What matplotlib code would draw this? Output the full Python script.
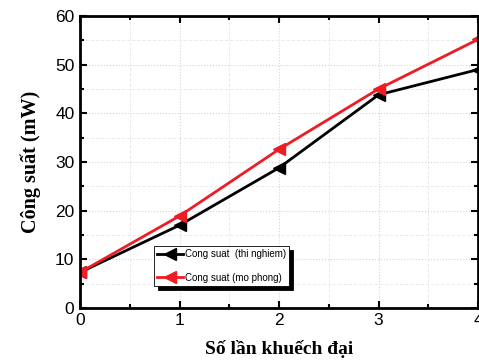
import matplotlib
matplotlib.use("Agg")
import matplotlib.pyplot as plt
from matplotlib.ticker import MultipleLocator

# number of amplification stages vs. power
stages = [0, 1, 2, 3, 4]
p_measured = [7.3, 17.0, 28.8, 43.8, 49.0]
p_simulated = [7.3, 18.9, 32.6, 45.0, 55.2]
labels = ["Cong suat  (thi nghiem)", "Cong suat (mo phong)"]

fig = plt.figure(figsize=(4.79, 3.64), dpi=100)
ax = fig.add_axes([0.167, 0.154, 0.831, 0.802])

ax.plot(stages, p_measured, color="black", lw=2, marker="<", ms=8,
        label=labels[0])
ax.plot(stages, p_simulated, color="#ee1c24", lw=2, marker="<", ms=8,
        label=labels[1])

ax.set_xlim(0, 4)
ax.set_ylim(0, 60)
ax.xaxis.set_major_locator(MultipleLocator(1))
ax.xaxis.set_minor_locator(MultipleLocator(0.5))
ax.yaxis.set_major_locator(MultipleLocator(10))
ax.yaxis.set_minor_locator(MultipleLocator(5))

ax.grid(which="major", color="#d4d4d4", ls=":", lw=0.8)
ax.grid(which="minor", color="#ececec", ls="--", lw=0.7)
ax.set_axisbelow(True)

ax.tick_params(which="both", direction="in", top=True, right=True,
               width=1.5, labelsize=12.5, pad=4)
ax.tick_params(which="major", length=5)
ax.tick_params(which="minor", length=3)
for lab in ax.get_xticklabels() + ax.get_yticklabels():
    lab.set_fontfamily("Liberation Sans")
for s in ax.spines.values():
    s.set_linewidth(2)

ax.set_xlabel("Số lần khuếch đại", fontfamily="Liberation Serif",
              fontweight="bold", fontsize=14, labelpad=8)
ax.set_ylabel("Công suất (mW)", fontfamily="Liberation Serif",
              fontweight="bold", fontsize=14.5, labelpad=10)

# legend with a solid black drop shadow
leg = ax.legend(loc="lower left", bbox_to_anchor=(0.186, 0.075),
                borderaxespad=0,
                prop={"family": "Liberation Sans", "size": 7},
                frameon=True, fancybox=False,
                shadow={"color": "black", "alpha": 1, "ox": 3, "oy": -3},
                edgecolor="black", framealpha=1, handlelength=2.6,
                handletextpad=0.2, labelspacing=1.4, borderpad=0.35)
leg.get_frame().set_linewidth(0.6)

fig.savefig("out.png", dpi=100)
